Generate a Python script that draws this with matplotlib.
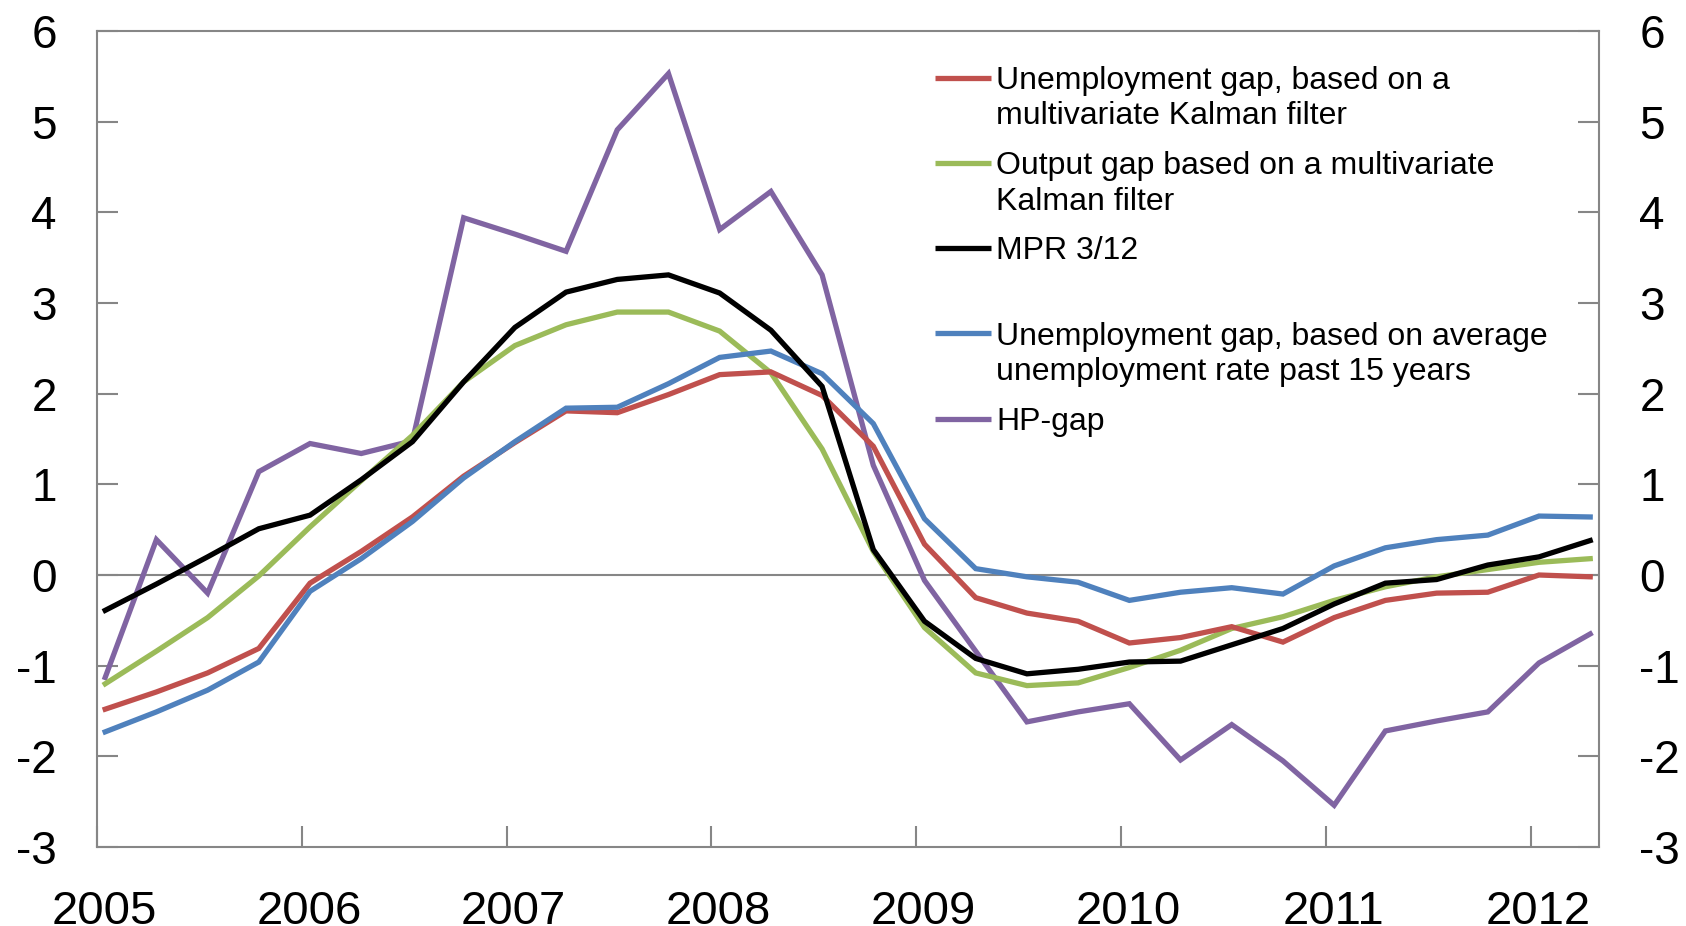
import numpy as np
import matplotlib
matplotlib.use("Agg")
import matplotlib.pyplot as plt
import matplotlib.transforms as mtransforms

plt.rcParams['font.family'] = ['Liberation Sans', 'DejaVu Sans']
plt.rcParams['axes.unicode_minus'] = False

# quarterly observations 2005Q1 - 2012Q2
n_obs = 30
x = 2005.04 + 0.25 * np.arange(n_obs)

unemp_kalman = [-1.48, -1.29, -1.08, -0.81, -0.09, 0.26, 0.64, 1.09, 1.46, 1.81,
                1.79, 1.99, 2.21, 2.24, 1.98, 1.42, 0.34, -0.25, -0.42, -0.51,
                -0.75, -0.69, -0.57, -0.74, -0.47, -0.28, -0.20, -0.19, 0.00, -0.02]
output_kalman = [-1.20, -0.84, -0.47, -0.01, 0.53, 1.04, 1.54, 2.13, 2.53, 2.76,
                 2.90, 2.90, 2.69, 2.23, 1.39, 0.26, -0.58, -1.08, -1.22, -1.19,
                 -1.02, -0.83, -0.59, -0.46, -0.28, -0.13, -0.02, 0.06, 0.14, 0.18]
mpr = [-0.39, -0.10, 0.20, 0.51, 0.66, 1.05, 1.47, 2.13, 2.73, 3.12,
       3.26, 3.31, 3.11, 2.70, 2.08, 0.28, -0.51, -0.92, -1.09, -1.04,
       -0.96, -0.95, -0.77, -0.59, -0.32, -0.09, -0.05, 0.11, 0.20, 0.38]
unemp_avg = [-1.73, -1.51, -1.27, -0.96, -0.18, 0.18, 0.59, 1.07, 1.47, 1.84,
             1.85, 2.11, 2.40, 2.47, 2.22, 1.67, 0.62, 0.07, -0.02, -0.08,
             -0.28, -0.19, -0.14, -0.21, 0.10, 0.30, 0.39, 0.44, 0.65, 0.64]
hp_gap = [-1.13, 0.39, -0.20, 1.14, 1.45, 1.34, 1.48, 3.94, 3.76, 3.57,
          4.91, 5.53, 3.81, 4.23, 3.31, 1.21, -0.06, -0.84, -1.62, -1.51,
          -1.42, -2.04, -1.65, -2.05, -2.54, -1.72, -1.61, -1.51, -0.97, -0.65]

years = list(range(2005, 2013))
yticks = list(range(-3, 7))

series = [
    (unemp_kalman, '#C0504D', ['Unemployment gap, based on a', 'multivariate Kalman filter']),
    (output_kalman, '#9BBB59', ['Output gap based on a multivariate', 'Kalman filter']),
    (mpr, '#000000', ['MPR 3/12']),
    (unemp_avg, '#4F81BD', ['Unemployment gap, based on average', 'unemployment rate past 15 years']),
    (hp_gap, '#8064A2', ['HP-gap']),
]

fig = plt.figure(figsize=(16.86, 9.26), dpi=100)
ax = fig.add_axes([97 / 1686, 1 - 847 / 926, 1502 / 1686, 816 / 926])

gray = '#868686'
lw = 3.8
ax.axhline(0, color=gray, lw=1.5, zorder=1)

# draw order: purple at the bottom, then the rest
for vals, col, _ in [series[4], series[1], series[0], series[3], series[2]]:
    ax.plot(x, vals, color=col, lw=lw, solid_joinstyle='miter', zorder=3)

ax.set_xlim(2005, 2012.333)
ax.set_ylim(-3, 6)
ax.set_xticks(years)
ax.set_xticklabels([str(y) for y in years])
ax.set_yticks(yticks)

for sp in ax.spines.values():
    sp.set_color(gray)
    sp.set_linewidth(1.5)

ax.tick_params(axis='y', which='both', direction='in', length=15, width=1.5,
               color=gray, labelsize=33, pad=29, left=True, right=True,
               labelleft=True, labelright=True)
ax.tick_params(axis='x', direction='in', length=15, width=1.5, color=gray,
               labelsize=34, pad=31)

shift = mtransforms.ScaledTranslation(0.07, 0, fig.dpi_scale_trans)
for lab in ax.get_xticklabels():
    lab.set_transform(lab.get_transform() + shift)

# legend, one slot per entry; the key sits on the first text line
x0, x1, xt = 0.558, 0.595, 0.5985
top = 0.943
step = 0.1045
line_h = 35.5 / 816
for k, (vals, col, lines) in enumerate(series):
    yc = top - k * step
    ax.plot([x0, x1], [yc, yc], color=col, lw=lw, transform=ax.transAxes,
            solid_capstyle='butt', clip_on=False, zorder=4)
    for j, txt in enumerate(lines):
        ax.text(xt, yc - j * line_h - 0.014, txt, transform=ax.transAxes,
                fontsize=23, va='baseline', ha='left', zorder=4)

fig.savefig('out.png', dpi=100)
